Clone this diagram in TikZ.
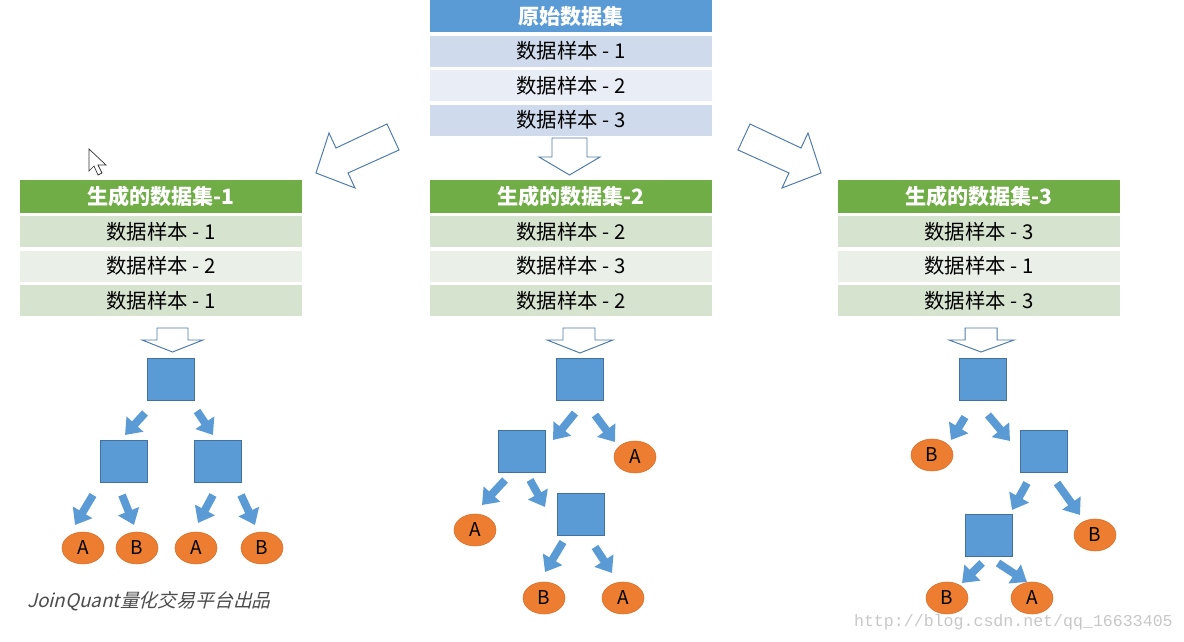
\documentclass[tikz,border=0pt]{standalone}
\usepackage{fontspec}
\setmainfont{Noto Sans CJK SC}
\newfontfamily\jqfont[FakeSlant=0.25]{Noto Sans CJK SC}
\newfontfamily\urlfont{Liberation Mono}
\usetikzlibrary{positioning,arrows.meta,shapes.geometric}
\definecolor{hdrblue}{HTML}{5B9BD5}
\definecolor{rowblue}{HTML}{CFDAEC}
\definecolor{rowbluelt}{HTML}{E8EDF6}
\definecolor{hdrgreen}{HTML}{70AD47}
\definecolor{rowgreen}{HTML}{D5E3CF}
\definecolor{rowgreenlt}{HTML}{EAF0E7}
\definecolor{sqedge}{HTML}{41719C}
\definecolor{leaforange}{HTML}{ED7D31}
\definecolor{hollowline}{HTML}{4F7CAC}

\begin{document}
\begin{tikzpicture}[x=0.025cm,y=-0.025cm,
  every node/.style={font=\fontsize{14.5}{16}\selectfont, inner sep=0pt},
  tabhead/.style={text=white, minimum width=7.05cm, minimum height=0.8cm, font=\fontsize{15}{17}\selectfont\bfseries},
  tabrow/.style={minimum width=7.05cm, minimum height=0.775cm, below=0.075cm of #1},
  split/.style={fill=hdrblue, draw=sqedge, line width=0.5pt, minimum width=1.175cm, minimum height=1.05cm},
  leaf/.style={ellipse, fill=leaforange, draw=leaforange!90!black, line width=0.4pt, minimum width=1.05cm, minimum height=0.8cm, font=\fontsize{13.5}{14}\selectfont},
  barrow/.style={draw=hdrblue, line width=5.6pt, -{Triangle[length=10.5pt,width=15.5pt]}},
  hollow/.style={draw=hollowline, fill=white, line width=0.7pt, line join=miter}]
\useasboundingbox (0,0) rectangle (1184,642);

% original data set
\node[tabhead, fill=hdrblue] (orig) at (571,16) {原始数据集};
\node[tabrow=orig, fill=rowblue] (orig1) {数据样本 - 1};
\node[tabrow=orig1, fill=rowbluelt] (orig2) {数据样本 - 2};
\node[tabrow=orig2, fill=rowblue] (orig3) {数据样本 - 3};

% bootstrap arrows
\draw[hollow] (316,173) -- (355,188) -- (348,173) -- (399,150) -- (387,124) -- (336,148) -- (329,133) -- cycle;
\draw[hollow] (552,138) -- (587,138) -- (587,157) -- (600,157) -- (569.5,175) -- (539,157) -- (552,157) -- cycle;
\draw[hollow] (821,173) -- (782,188) -- (789,173) -- (738,150) -- (750,124) -- (801,148) -- (808,133) -- cycle;

% cursor
\draw[fill=white, draw=black!80, line width=0.5pt, line join=miter] (89,149) -- (89,171) -- (94,166) -- (98,175) -- (102,173) -- (98,165) -- (106,165) -- cycle;

% generated data sets
\node[tabhead, fill=hdrgreen] (gen1) at (161,196.5) {生成的数据集-1};
\node[tabrow=gen1, fill=rowgreen] (gen1a) {数据样本 - 1};
\node[tabrow=gen1a, fill=rowgreenlt] (gen1b) {数据样本 - 2};
\node[tabrow=gen1b, fill=rowgreen] (gen1c) {数据样本 - 1};

\node[tabhead, fill=hdrgreen] (gen2) at (571,196.5) {生成的数据集-2};
\node[tabrow=gen2, fill=rowgreen] (gen2a) {数据样本 - 2};
\node[tabrow=gen2a, fill=rowgreenlt] (gen2b) {数据样本 - 3};
\node[tabrow=gen2b, fill=rowgreen] (gen2c) {数据样本 - 2};

\node[tabhead, fill=hdrgreen] (gen3) at (979,196.5) {生成的数据集-3};
\node[tabrow=gen3, fill=rowgreen] (gen3a) {数据样本 - 3};
\node[tabrow=gen3a, fill=rowgreenlt] (gen3b) {数据样本 - 1};
\node[tabrow=gen3b, fill=rowgreen] (gen3c) {数据样本 - 3};

% arrows down to the trees
\draw[hollow] (157,328) -- (188,328) -- (188,340) -- (203,340) -- (172.5,352) -- (142,340) -- (157,340) -- cycle;
\draw[hollow] (563,328) -- (595,328) -- (595,340) -- (613,340) -- (580,353) -- (547,340) -- (563,340) -- cycle;
\draw[hollow] (965,328) -- (997,328) -- (997,340) -- (1014,340) -- (981,352) -- (949,340) -- (965,340) -- cycle;

% tree 1
\node[split] (t1root) at (171,379) {};
\node[split] (t1l) at (124,461) {};
\node[split] (t1r) at (218,461) {};
\node[leaf] (t1a) at (83,548) {A};
\node[leaf] (t1b) at (137,548) {B};
\node[leaf] (t1c) at (196,548) {A};
\node[leaf] (t1d) at (262,548) {B};
\draw[barrow] ([shift={(-26,34)}]t1root.center) -- ([shift={(1,-26)}]t1l.center);
\draw[barrow] ([shift={(26,32)}]t1root.center) -- ([shift={(-5,-26)}]t1r.center);
\draw[barrow] ([shift={(-31,34)}]t1l.center) -- ([shift={(-8,-23)}]t1a.center);
\draw[barrow] ([shift={(-2,34)}]t1l.center) -- ([shift={(-3,-23)}]t1b.center);
\draw[barrow] ([shift={(-5,34)}]t1r.center) -- ([shift={(2,-25)}]t1c.center);
\draw[barrow] ([shift={(23,34)}]t1r.center) -- ([shift={(-7,-23)}]t1d.center);

% tree 2
\node[split] (t2root) at (579.5,379) {};
\node[split] (t2l) at (521.5,451.5) {};
\node[leaf] (t2a) at (635,457) {A};
\node[leaf] (t2b) at (475,530) {A};
\node[split] (t2m) at (580.5,514) {};
\node[leaf] (t2c) at (544,598) {B};
\node[leaf] (t2d) at (623,598) {A};
\draw[barrow] ([shift={(-4.5,34)}]t2root.center) -- ([shift={(31.5,-11.5)}]t2l.center);
\draw[barrow] ([shift={(15.5,36)}]t2root.center) -- ([shift={(-20,-15)}]t2a.center);
\draw[barrow] ([shift={(-16.5,28.5)}]t2l.center) -- ([shift={(7,-25)}]t2b.center);
\draw[barrow] ([shift={(8.5,28.5)}]t2l.center) -- ([shift={(-35.5,-7)}]t2m.center);
\draw[barrow] ([shift={(-17.5,28)}]t2m.center) -- ([shift={(1,-26)}]t2c.center);
\draw[barrow] ([shift={(14.5,33)}]t2m.center) -- ([shift={(-11,-25)}]t2d.center);

% tree 3
\node[split] (t3root) at (982.5,379) {};
\node[leaf] (t3a) at (932,455) {B};
\node[split] (t3r) at (1043.5,451.5) {};
\node[split] (t3m) at (988.5,535) {};
\node[leaf] (t3b) at (1095,535) {B};
\node[leaf] (t3c) at (947,598) {B};
\node[leaf] (t3d) at (1032,598) {A};
\draw[barrow] ([shift={(-17.5,38)}]t3root.center) -- ([shift={(19,-15)}]t3a.center);
\draw[barrow] ([shift={(5.5,36)}]t3root.center) -- ([shift={(-33.5,-10.5)}]t3r.center);
\draw[barrow] ([shift={(-16.5,31.5)}]t3r.center) -- ([shift={(23.5,-25)}]t3m.center);
\draw[barrow] ([shift={(13.5,31.5)}]t3r.center) -- ([shift={(-15,-20)}]t3b.center);
\draw[barrow] ([shift={(-6.5,28)}]t3m.center) -- ([shift={(15,-15)}]t3c.center);
\draw[barrow] ([shift={(9.5,28)}]t3m.center) -- ([shift={(-5,-16)}]t3d.center);

% watermarks
\node[anchor=west, text=black!70, font=\jqfont\fontsize{13.4}{15}\selectfont] (jq) at (27,601) {JoinQuant量化交易平台出品};
\node[anchor=east, text=black!22, font=\urlfont\fontsize{11.8}{13}\selectfont] (url) at (1173,622) {http://blog.csdn.net/qq\_16633405};
\end{tikzpicture}
\end{document}
